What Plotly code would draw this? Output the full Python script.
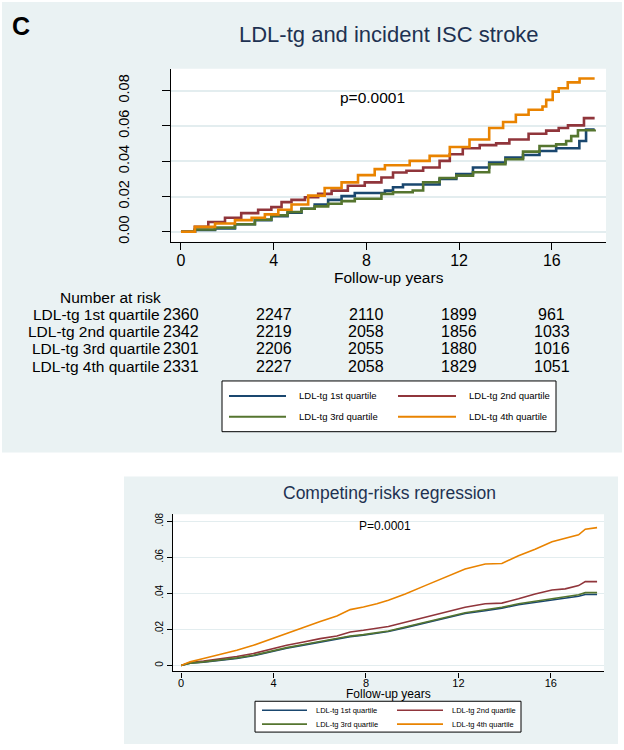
import plotly.graph_objects as go

W, H = 624, 750

# series names and colours (Stata s2color)
names = ["LDL-tg 1st quartile", "LDL-tg 2nd quartile",
         "LDL-tg 3rd quartile", "LDL-tg 4th quartile"]
colors = ["#1a476f", "#90353b", "#55752f", "#e98300"]

# --- panel C: Kaplan-Meier cumulative incidence ---
q1_years = [0, 0.6, 1.47, 2.33, 3.19, 3.9, 4.6, 5.2, 5.77, 6.35, 6.93, 7.5, 8.8,
            9.15, 9.58, 11.16, 11.88, 12.6, 13.3, 14.0, 14.76, 15.47, 16.19,
            17.19, 17.48, 17.85]
q1_inc = [0, 0.001, 0.0019, 0.0043, 0.0066, 0.0088, 0.0108, 0.0131, 0.0155,
          0.0181, 0.0202, 0.022, 0.0233, 0.0252, 0.0268, 0.0299, 0.0327, 0.0364,
          0.0392, 0.042, 0.0435, 0.0458, 0.0473, 0.0514, 0.0579, 0.0579]

q2_years = [0, 0.6, 1.18, 1.9, 2.6, 3.33, 3.9, 4.34, 4.77, 5.35, 5.92, 6.5, 7.2,
            7.93, 8.65, 9.15, 9.73, 10.45, 11.16, 11.6, 12.16, 12.89, 13.6,
            14.17, 15.0, 15.76, 16.3, 16.7, 17.39, 17.85]
q2_inc = [0, 0.0028, 0.0056, 0.008, 0.0106, 0.0125, 0.014, 0.0168, 0.0181,
          0.0196, 0.0215, 0.0233, 0.0261, 0.028, 0.0308, 0.0336, 0.0346, 0.0364,
          0.0402, 0.0439, 0.0473, 0.0491, 0.0501, 0.0523, 0.0555, 0.0573,
          0.0588, 0.0603, 0.0644, 0.0644]

q3_years = [0, 0.6, 1.47, 2.33, 3.19, 3.9, 4.6, 5.2, 5.77, 6.35, 6.93, 7.5, 8.65,
            9.15, 10.0, 10.45, 11.16, 11.88, 12.6, 13.3, 14.0, 14.76, 15.47,
            16.19, 16.62, 16.84, 17.13, 17.85]
q3_inc = [0, 0.0013, 0.0024, 0.0043, 0.0069, 0.0093, 0.0112, 0.0131, 0.0144,
          0.0159, 0.0174, 0.0187, 0.0215, 0.0224, 0.0234, 0.0281, 0.0305, 0.0318,
          0.0337, 0.0383, 0.0411, 0.0454, 0.0486, 0.0495, 0.0514, 0.0542,
          0.0575, 0.0579]

q4_years = [0, 0.6, 1.47, 2.33, 3.05, 3.62, 4.2, 4.77, 5.49, 6.2, 6.93, 7.64,
            8.36, 8.8, 9.87, 10.73, 11.6, 12.45, 13.3, 13.9, 14.45, 15.0, 15.6,
            15.76, 16.04, 16.3, 16.69, 17.2, 17.85]
q4_inc = [0, 0.0028, 0.0047, 0.0066, 0.008, 0.0099, 0.0125, 0.0155, 0.0205,
          0.0248, 0.028, 0.0321, 0.0355, 0.0377, 0.0402, 0.043, 0.048, 0.0523,
          0.0588, 0.0622, 0.0663, 0.0691, 0.071, 0.0747, 0.0794, 0.0813, 0.0846,
          0.0868, 0.0868]

# number at risk table
risk_years = [0, 4, 8, 12, 16]
at_risk = [
    [2360, 2247, 2110, 1899, 961],
    [2342, 2219, 2058, 1856, 1033],
    [2301, 2206, 2055, 1880, 1016],
    [2331, 2227, 2058, 1829, 1051],
]

# --- competing-risks regression panel ---
crr_years = [0, 0.39, 0.97, 1.69, 2.41, 3.13, 3.85, 4.57, 5.3, 6.02, 6.74, 7.32,
             7.89, 8.47, 8.97, 9.7, 10.56, 11.43, 12.29, 13.16, 13.88, 14.6,
             15.32, 16.05, 16.62, 17.2, 17.49, 18.0]
crr_q1 = [0, 0.0012, 0.0018, 0.0027, 0.0039, 0.0054, 0.0076, 0.0096, 0.0113,
          0.0131, 0.0146, 0.016, 0.0168, 0.0179, 0.0188, 0.021, 0.0236, 0.0264,
          0.0288, 0.0304, 0.0318, 0.0337, 0.0351, 0.0364, 0.0374, 0.0384,
          0.0394, 0.0394]
crr_q2 = [0, 0.0016, 0.0024, 0.0035, 0.005, 0.0066, 0.009, 0.0112, 0.013,
          0.0149, 0.0163, 0.0186, 0.0195, 0.0208, 0.0216, 0.024, 0.0268, 0.0296,
          0.0323, 0.0342, 0.0346, 0.037, 0.0397, 0.0419, 0.0425, 0.0443,
          0.0465, 0.0465]
crr_q3 = [0, 0.0013, 0.002, 0.0029, 0.0042, 0.0057, 0.0079, 0.0099, 0.0116,
          0.0134, 0.0149, 0.0163, 0.0171, 0.0182, 0.0191, 0.0213, 0.024, 0.0268,
          0.0292, 0.0309, 0.0323, 0.0342, 0.0357, 0.037, 0.038, 0.0392, 0.0404,
          0.0404]
crr_q4 = [0, 0.002, 0.0039, 0.006, 0.0084, 0.0112, 0.0145, 0.0182, 0.0213,
          0.0244, 0.0274, 0.031, 0.0324, 0.0342, 0.0362, 0.0397, 0.0443, 0.0489,
          0.0535, 0.0563, 0.0566, 0.0609, 0.0645, 0.0686, 0.0706, 0.0725,
          0.0756, 0.0765]

x_ticks = [0, 4, 8, 12, 16]
y_ticks = [0, 0.02, 0.04, 0.06, 0.08]
y_text_top = ["0.00", "0.02", "0.04", "0.06", "0.08"]
y_text_bot = ["0", ".02", ".04", ".06", ".08"]

FONT = "Liberation Sans, Arial, sans-serif"
BG = "#eaf2f3"
GRID = "#e3edef"
TITLE_C = "#1e3252"


def px(x):
    return x / W


def py(y):
    return 1 - y / H


fig = go.Figure()

km = [(q1_years, q1_inc), (q2_years, q2_inc), (q3_years, q3_inc), (q4_years, q4_inc)]
for (xs, ys), nm, c in zip(km, names, colors):
    fig.add_trace(go.Scatter(x=xs, y=ys, mode="lines", name=nm,
                             line=dict(color=c, width=2.6, shape="hv"),
                             xaxis="x", yaxis="y", showlegend=False))

for ys, nm, c in zip([crr_q1, crr_q2, crr_q3, crr_q4], names, colors):
    fig.add_trace(go.Scatter(x=crr_years, y=ys, mode="lines", name=nm,
                             line=dict(color=c, width=1.6),
                             xaxis="x2", yaxis="y2", showlegend=False))

shapes = [
    dict(type="rect", xref="paper", yref="paper", x0=px(2), x1=px(622),
         y0=py(453), y1=py(0), fillcolor=BG, line_width=0, layer="below"),
    dict(type="rect", xref="paper", yref="paper", x0=px(124), x1=px(618),
         y0=py(746), y1=py(477), fillcolor=BG, line_width=0, layer="below"),
    dict(type="rect", xref="x domain", yref="y domain", x0=0, x1=1, y0=0, y1=1,
         fillcolor="white", line_width=0, layer="below"),
    dict(type="rect", xref="x2 domain", yref="y2 domain", x0=0, x1=1, y0=0, y1=1,
         fillcolor="white", line_width=0, layer="below"),
]
annotations = []


def text(x, y, s, size, color="black", xanchor="center", xref="paper", bold=False):
    annotations.append(dict(
        x=x if xref != "paper" else px(x), y=py(y), xref=xref, yref="paper",
        text="<b>%s</b>" % s if bold else s, showarrow=False,
        xanchor=xanchor, yanchor="middle",
        font=dict(family=FONT, size=size, color=color)))


def legend_box(x0, x1, y0, y1, rows, line_cols, text_cols, size, lw):
    shapes.append(dict(type="rect", xref="paper", yref="paper", x0=px(x0), x1=px(x1),
                       y0=py(y1), y1=py(y0), fillcolor="white",
                       line=dict(color="black", width=1)))
    for i, nm in enumerate(names):
        r, c = divmod(i, 2)
        shapes.append(dict(type="line", xref="paper", yref="paper",
                           x0=px(line_cols[c][0]), x1=px(line_cols[c][1]),
                           y0=py(rows[r]), y1=py(rows[r]),
                           line=dict(color=colors[i], width=lw)))
        text(text_cols[c], rows[r], nm, size, xanchor="left")


# panel C texts
text(21, 24, "C", 25, bold=True)
text(389, 33, "LDL-tg and incident ISC stroke", 22, color=TITLE_C)
text(372, 96, "p=0.0001", 15.5)
text(389, 277, "Follow-up years", 15.5)
text(110, 297, "Number at risk", 15.5)
row_y = [314, 331, 348, 366]
for nm, counts, ry in zip(names, at_risk, row_y):
    text(162, ry, nm, 15.5, xanchor="right")
    for yr, n in zip(risk_years, counts):
        text(yr, ry, str(n), 16, xref="x")
legend_box(222, 556, 381, 432, [396, 417], [(229, 286), (398, 456)], [297, 467], 9.5, 2)

# competing-risks panel texts
text(389, 494, "Competing-risks regression", 17.5, color=TITLE_C)
text(385, 527, "P=0.0001", 12)
text(388, 696, "Follow-up years", 12)
legend_box(255, 521, 703, 734, [712, 726], [(262, 307), (397, 443)], [314, 450], 7.5, 1.6)

axis_common = dict(showline=True, linecolor="black", linewidth=1.3,
                   ticks="outside", tickcolor="black", zeroline=False,
                   tickfont=dict(family=FONT, color="black"))

fig.update_layout(
    width=W, height=H, autosize=False,
    margin=dict(l=0, r=0, t=0, b=0),
    paper_bgcolor="white", plot_bgcolor="white",
    font=dict(family=FONT, color="black"),
    shapes=shapes, annotations=annotations,
    xaxis=dict(domain=[px(171), px(606)], anchor="y", range=[-0.43, 18.34],
               tickvals=x_ticks, ticklen=7, tickwidth=1.3, showgrid=False,
               ticklabelstandoff=-3, **axis_common),
    yaxis=dict(domain=[py(241), py(67)], anchor="x", range=[-0.0056, 0.0924],
               tickvals=y_ticks, ticktext=y_text_top, tickangle=-90,
               ticklen=8, tickwidth=1.3, showgrid=True, gridcolor=GRID,
               gridwidth=1.5, ticklabelstandoff=27, **axis_common),
    xaxis2=dict(domain=[px(173), px(604)], anchor="y2", range=[-0.35, 18.3],
                tickvals=x_ticks, ticklen=5, tickwidth=1, showgrid=False,
                ticklabelstandoff=-4, **axis_common),
    yaxis2=dict(domain=[py(673), py(515)], anchor="x2", range=[-0.0033, 0.0839],
                tickvals=y_ticks, ticktext=y_text_bot, tickangle=-90,
                ticklen=5, tickwidth=1, showgrid=True, gridcolor=GRID,
                gridwidth=1.2, ticklabelstandoff=0, **axis_common),
)
fig.update_xaxes(tickfont_size=16, selector=dict(anchor="y"))
fig.update_yaxes(tickfont_size=14.5, selector=dict(anchor="x"))
fig.update_xaxes(tickfont_size=11, selector=dict(anchor="y2"))
fig.update_yaxes(tickfont_size=10, selector=dict(anchor="x2"))

# drop the page's default 8px body margin so the figure sits at the window origin
fig.write_html("out.html", config={"displayModeBar": False},
               post_script="document.body.style.margin='0';")
